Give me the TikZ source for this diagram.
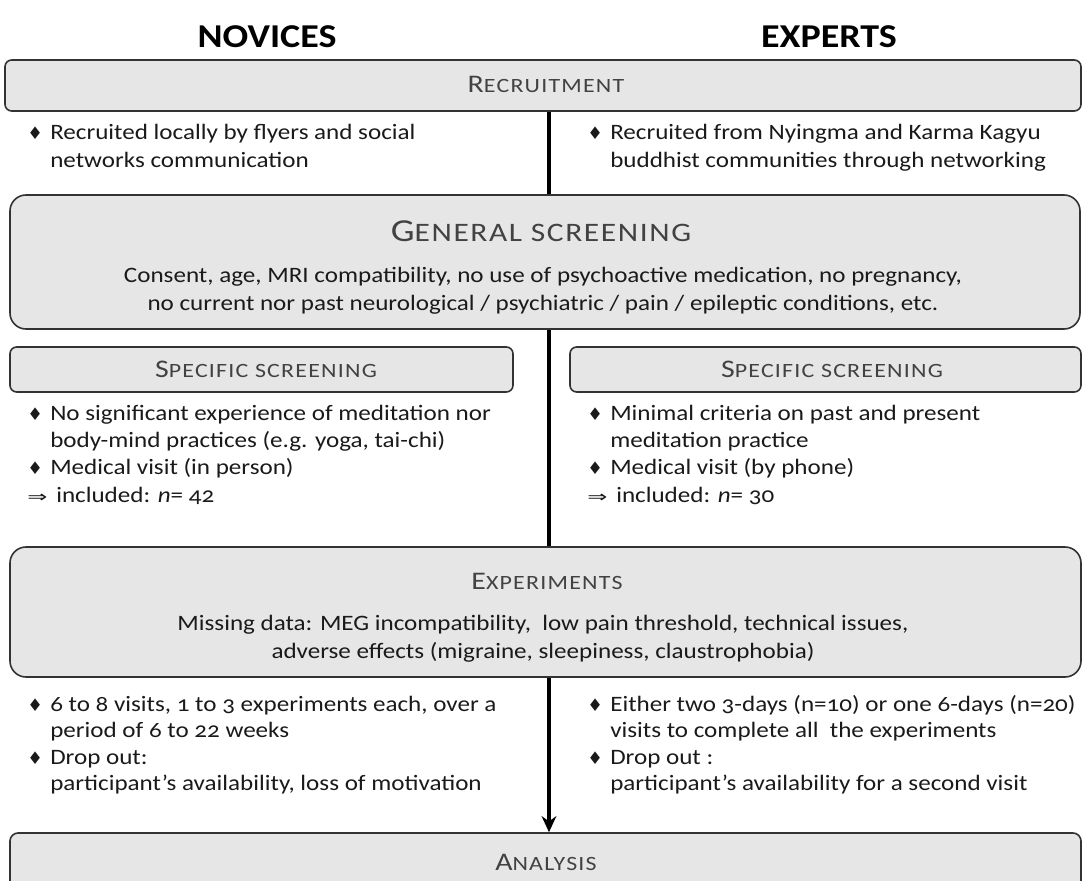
\documentclass[tikz,border=0pt]{standalone}
\usepackage{fontspec}
\setmainfont{Carlito}[Numbers=OldStyle, FakeStretch=1.14]
\newfontfamily\ttlfnt{Carlito}[Numbers=OldStyle, FakeStretch=1.18, LetterSpace=6]
\newfontfamily\symfnt{DejaVu Sans}
\usetikzlibrary{arrows.meta,backgrounds}
\definecolor{boxfill}{HTML}{E6E6E6}
\definecolor{boxline}{HTML}{333333}
\definecolor{titlecol}{HTML}{424242}
\definecolor{txt}{HTML}{1A1A1A}
\newcommand\smcap[2]{{\fontsize{19pt}{22pt}\selectfont #1}{\fontsize{15.2pt}{18pt}\selectfont #2}}
\newcommand\bigsmcap[2]{{\fontsize{24pt}{28pt}\selectfont #1}{\fontsize{20pt}{24pt}\selectfont #2}}
\newcommand\bul{\makebox[17.25pt][l]{\symfnt\fontsize{13pt}{13pt}\selectfont ♦}}
\newcommand\impl{\makebox[21.75pt][l]{\symfnt\fontsize{12pt}{12pt}\selectfont\scalebox{1.5}[1]{⇒}}}
\tikzset{
  box/.style={draw=boxline, fill=boxfill, line width=1.2pt, inner sep=0pt},
  ttl/.style={text=titlecol, font=\ttlfnt, anchor=base, inner sep=0pt},
  head/.style={text=black, font=\fontsize{25pt}{28pt}\selectfont\bfseries, anchor=base, inner sep=0pt},
  body/.style={text=txt, font=\fontsize{16.5pt}{20pt}\selectfont, anchor=base west, inner sep=0pt},
  bodyc/.style={body, anchor=base},
  flow/.style={line width=2.3pt, -{Stealth[length=12pt,width=11pt]}}
}
\begin{document}
\begin{tikzpicture}[x=0.75pt,y=-0.75pt]
\useasboundingbox (0,0) rectangle (1083,881);
% headers
\node[head] (hn) at (267,48) {NOVICES};
\node[head] (he) at (829,48) {EXPERTS};
% recruitment
\node[box, rounded corners=5pt, minimum width=807pt, minimum height=38.25pt] (rec) at (543,85.5) {};
\node[ttl] (rect) at (546,93) {\smcap{R}{ECRUITMENT}};
\node[body] (r1) at (27,140) {\bul Recruited locally by flyers and social};
\node[body] (r2) at (50,167) {networks communication};
\node[body] (r3) at (587,140) {\bul Recruited from Nyingma and Karma Kagyu};
\node[body] (r4) at (610,167) {buddhist communities through networking};
% general screening
\node[box, rounded corners=12pt, minimum width=802.5pt, minimum height=100.5pt] (gen) at (545,262) {};
\node[ttl] (gent) at (541,241) {\bigsmcap{G}{ENERAL SCREENING}};
\node[bodyc] (g1) at (543,282) {Consent, age, MRI compatibility, no use of psychoactive medication, no pregnancy,};
\node[bodyc] (g2) at (543,310) {no current nor past neurological / psychiatric / pain / epileptic conditions, etc.};
% specific screening
\node[box, rounded corners=5pt, minimum width=377.25pt, minimum height=33.75pt] (spl) at (261.5,369.5) {};
\node[box, rounded corners=5pt, minimum width=383.25pt, minimum height=33.75pt] (spr) at (825.5,369.5) {};
\node[ttl] (splt) at (266,377) {\smcap{S}{PECIFIC SCREENING}};
\node[ttl] (sprt) at (832,377) {\smcap{S}{PECIFIC SCREENING}};
\node[body] (s1) at (27,420) {\bul No significant experience of meditation nor};
\node[body] (s2) at (50,447) {body-mind practices (e.g. yoga, tai-chi)};
\node[body] (s3) at (27,474) {\bul Medical visit (in person)};
\node[body] (s4) at (27,502) {\impl included: \textit{n}= 42};
\node[body] (s5) at (587,420) {\bul Minimal criteria on past and present};
\node[body] (s6) at (610,447) {meditation practice};
\node[body] (s7) at (587,474) {\bul Medical visit (by phone)};
\node[body] (s8) at (587,502) {\impl included: \textit{n}= 30};
% experiments
\node[box, rounded corners=12pt, minimum width=803.25pt, minimum height=97.5pt] (exp) at (545.5,612) {};
\node[ttl] (expt) at (547,589) {\smcap{E}{XPERIMENTS}};
\node[bodyc] (e1) at (543,630) {Missing data: MEG incompatibility, \ low pain threshold, technical issues,};
\node[bodyc] (e2) at (543,658) {adverse effects (migraine, sleepiness, claustrophobia)};
\node[body] (b1) at (27,711) {\bul 6 to 8 visits, 1 to 3 experiments each, over a};
\node[body] (b2) at (50,737) {period of 6 to 22 weeks};
\node[body] (b3) at (27,764) {\bul Drop out:};
\node[body] (b4) at (50,790) {participant’s availability, loss of motivation};
\node[body] (b5) at (587,711) {\bul Either two 3-days (n=10) or one 6-days (n=20)};
\node[body] (b6) at (610,737) {visits to complete all \ the experiments};
\node[body] (b7) at (587,764) {\bul Drop out :};
\node[body] (b8) at (610,790) {participant’s availability for a second visit};
% analysis
\node[box, rounded corners=6pt, minimum width=803.25pt, minimum height=45pt] (ana) at (545.5,863) {};
\node[ttl] (anat) at (546,870) {\smcap{A}{NALYSIS}};
% main flow line
\begin{scope}[on background layer]
\draw[flow] ([xshift=4.5pt]rec.south) -- ([xshift=4.5pt]rec.south |- ana.north);
\end{scope}
\end{tikzpicture}
\end{document}
